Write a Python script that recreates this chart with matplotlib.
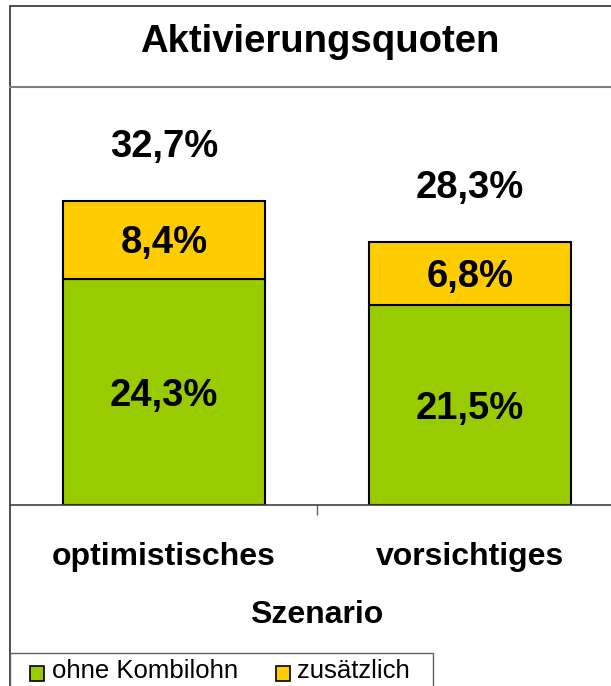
import matplotlib.pyplot as plt
from matplotlib.patches import Rectangle
from matplotlib.lines import Line2D

plt.rcParams['font.family'] = ['Liberation Sans', 'DejaVu Sans']

scenarios = ['optimistisches', 'vorsichtiges']
ohne_kombilohn = [24.3, 21.5]
zusaetzlich = [8.4, 6.8]
totals = [32.7, 28.3]
series_names = ['ohne Kombilohn', 'zusätzlich']

green = '#99CC00'
yellow = '#FFCC00'

W, H = 611, 686
fig = plt.figure(figsize=(W / 100, H / 100), dpi=100)


def fx(px):
    return px / W


def fy(py):
    return 1 - py / H


# plot area: baseline at y=505, top at title line y=88, categories centred at 164 / 470
ax = fig.add_axes([fx(11), fy(505), fx(623 - 11), (505 - 88) / H])
ax.set_xlim(-0.5, 1.5)
ax.set_ylim(0, 44.8)

x = [0, 1]
ax.bar(x, ohne_kombilohn, width=0.66, color=green, edgecolor='black', linewidth=1.5)
ax.bar(x, zusaetzlich, width=0.66, bottom=ohne_kombilohn, color=yellow,
       edgecolor='black', linewidth=1.5)

fmt = lambda v: f'{v:.1f}%'.replace('.', ',')
lab = dict(ha='center', va='baseline', fontsize=27.5, fontweight='bold',
           textcoords='offset points')
for i in range(len(x)):
    ax.annotate(fmt(ohne_kombilohn[i]), (x[i], ohne_kombilohn[i] / 2), xytext=(0, -9.9), **lab)
    ax.annotate(fmt(zusaetzlich[i]), (x[i], ohne_kombilohn[i] + zusaetzlich[i] / 2),
                xytext=(0, -9.9), **lab)
    ax.annotate(fmt(totals[i]), (x[i], totals[i]), xytext=(0, 31.7), **lab)

for s in ['left', 'right', 'top']:
    ax.spines[s].set_visible(False)
ax.spines['bottom'].set_color('#404040')
ax.spines['bottom'].set_linewidth(1.2)
ax.set_yticks([])
ax.set_xticks([])
ax.set_xticks([0.5], minor=True)
ax.tick_params(axis='x', which='minor', length=7, color='#606060', width=1, labelbottom=False)

for i in range(len(x)):
    ax.annotate(scenarios[i], (x[i], 0), xycoords=('data', 'axes fraction'), xytext=(0, -43.2),
                textcoords='offset points', ha='center', va='baseline', fontsize=23,
                fontweight='bold')
ax.annotate('Szenario', (0.5, 0), xycoords=('data', 'axes fraction'), xytext=(0, -84.9),
            textcoords='offset points', ha='center', va='baseline', fontsize=23,
            fontweight='bold')

# title and frame
fig.text(fx(320), fy(52), 'Aktivierungsquoten', ha='center', va='baseline',
         fontsize=27.5, fontweight='bold')
fig.add_artist(Rectangle((fx(10), fy(720)), fx(640), (720 - 6) / H, fill=False,
                         edgecolor='#303030', linewidth=1.2, transform=fig.transFigure))
fig.add_artist(Line2D([fx(10), 1], [fy(87), fy(87)], color='#808080', linewidth=1.5,
                      transform=fig.transFigure))

# legend box, cut by the bottom edge like the original
fig.add_artist(Rectangle((fx(10), fy(720)), fx(423), (720 - 653) / H, facecolor='white',
                         edgecolor='#606060', linewidth=1.0, transform=fig.transFigure))
for key_x, text_x, color, name in [(30, 52, green, series_names[0]),
                                   (276, 297, yellow, series_names[1])]:
    fig.add_artist(Rectangle((fx(key_x), fy(681)), fx(14), 15 / H, facecolor=color,
                             edgecolor='black', linewidth=1.2, transform=fig.transFigure))
    fig.text(fx(text_x), fy(678), name, ha='left', va='baseline', fontsize=18.5)

fig.savefig('out.png', dpi=100)
